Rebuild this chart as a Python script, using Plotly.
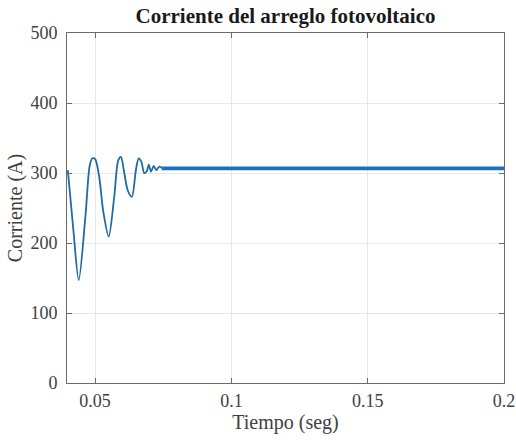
import plotly.graph_objects as go

# Transient part of the PV array current (time in s, current in A)
t_transient = [0.0400, 0.0420, 0.0440, 0.0465, 0.0480, 0.0490, 0.0500, 0.0515, 0.0530,
               0.0550, 0.0570, 0.0585, 0.0595, 0.0605, 0.0620, 0.0635, 0.0650, 0.0660,
               0.0670, 0.0680, 0.0690, 0.0697, 0.0705, 0.0715, 0.0725, 0.0735, 0.0750]
i_transient = [304, 220, 147, 240, 310, 321, 320, 295, 245,
               209, 265, 318, 323, 305, 275, 266, 305, 321,
               316, 300, 303, 312, 302, 310, 304, 309, 306]

# Steady-state part (with ripple shown as a thicker band)
t_steady = [0.0745, 0.2000]
i_steady = [306.5, 306.5]

x_ticks = [0.05, 0.1, 0.15, 0.2]
x_ticklabels = ["0.05", "0.1", "0.15", "0.2"]
y_ticks = [0, 100, 200, 300, 400, 500]

line_color = "#1f6aa8"

fig = go.Figure()
fig.add_trace(go.Scatter(x=t_transient, y=i_transient, mode="lines",
                         line=dict(color=line_color, width=1.8, shape="spline", smoothing=0.8),
                         showlegend=False))
fig.add_trace(go.Scatter(x=t_steady, y=i_steady, mode="lines",
                         line=dict(color="#1a73b8", width=3.8),
                         showlegend=False))

axis_common = dict(
    showline=True, linecolor="#6a6a6a", linewidth=1, mirror="ticks",
    ticks="inside", ticklen=5, tickcolor="#6a6a6a",
    showgrid=True, gridcolor="#e8e8e8", gridwidth=1,
    zeroline=False, automargin=False,
    tickfont=dict(family="Liberation Serif", size=18, color="#404040"),
)

fig.update_layout(
    width=516, height=440,
    margin=dict(l=67, r=12, t=33, b=57, autoexpand=False),
    paper_bgcolor="white", plot_bgcolor="white",
    title=dict(text="<b>Corriente del arreglo fotovoltaico</b>",
               x=(67 + 504) / 2 / 516, xanchor="center",
               y=1 - 16 / 440, yanchor="middle",
               font=dict(family="Liberation Serif", size=21, color="#1a1a1a")),
    xaxis=dict(range=[0.0397, 0.2], tickvals=x_ticks, ticktext=x_ticklabels,
               ticklabelstandoff=1,
               title=dict(text="Tiempo (seg)", standoff=4,
                          font=dict(family="Liberation Serif", size=20, color="#404040")),
               **axis_common),
    yaxis=dict(range=[0, 500], tickvals=y_ticks,
               ticklabelstandoff=5,
               title=dict(text="Corriente (A)", standoff=2,
                          font=dict(family="Liberation Serif", size=20, color="#404040")),
               **axis_common),
)

fig.write_html("out.html", config={"displayModeBar": False},
               post_script="document.body.style.margin='0';")
